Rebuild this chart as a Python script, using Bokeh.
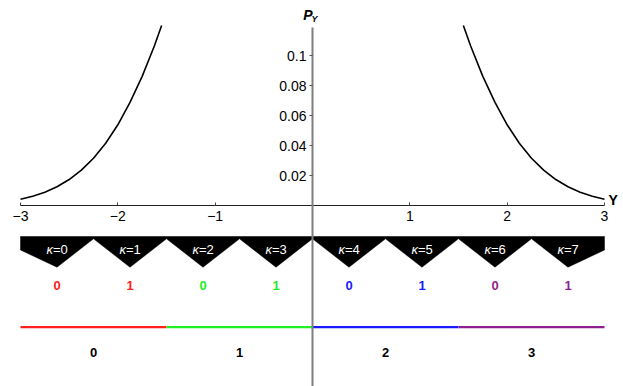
from bokeh.plotting import figure
from bokeh.models import Range1d, LinearAxis, FixedTicker, Label
from bokeh.core.properties import value
from bokeh.embed import file_html
from bokeh.resources import INLINE

# ---------------- data ----------------
curve_left_y = [-3.0, -2.875, -2.75, -2.625, -2.5, -2.375, -2.25, -2.125,
                -2.0, -1.875, -1.75, -1.625, -1.55]
curve_left_p = [0.0044, 0.0064, 0.0091, 0.0127, 0.0175, 0.0238, 0.0317, 0.0417,
                0.0540, 0.0689, 0.0863, 0.1065, 0.1202]
curve_right_y = [1.55, 1.625, 1.75, 1.875, 2.0, 2.125, 2.25, 2.375,
                 2.5, 2.625, 2.75, 2.875, 3.0]
curve_right_p = [0.1202, 0.1065, 0.0863, 0.0689, 0.0540, 0.0417, 0.0317, 0.0238,
                 0.0175, 0.0127, 0.0091, 0.0064, 0.0044]

kappa = [0, 1, 2, 3, 4, 5, 6, 7]
kappa_bits = [0, 1, 0, 1, 0, 1, 0, 1]
segments = [0, 1, 2, 3]
segment_colors = ["#ff2020", "#22f022", "#1a1aff", "#8f1f8f"]

x_ticks = [-3, -2, -1, 1, 2, 3]
x_tick_labels = ["\u22123", "\u22122", "\u22121", "1", "2", "3"]
y_ticks = [0.02, 0.04, 0.06, 0.08, 0.1]
y_tick_labels = ["0.02", "0.04", "0.06", "0.08", "0.1"]

X_MIN, X_MAX = -3.0, 3.0
Y_AXIS_TOP = 0.119

# ---------------- layout helpers ----------------
PXU = 97.33      # pixels per unit of Y (horizontal)
PYU = 1500.0     # pixels per unit of P (vertical)
X0PX, Y0PX = 312.0, 205.3   # picture pixel of origin
OFF = 0          # picture pixel of the canvas' top-left corner


def yd(py):
    return (Y0PX - py) / PYU


def xd(px):
    return (px - X0PX) / PXU


W, H = 623, 386
p = figure(width=W, height=H,
           x_range=Range1d(xd(OFF), xd(OFF + W)),
           y_range=Range1d(yd(OFF + H), yd(OFF)),
           toolbar_location=None, output_backend="svg",
           x_axis_type=None, y_axis_type=None, min_border=0)
p.outline_line_color = None
p.background_fill_color = "white"

FONT = "Liberation Sans"

# ---------------- curves ----------------
p.line(curve_left_y, curve_left_p, line_color="black", line_width=1.6)
p.line(curve_right_y, curve_right_p, line_color="black", line_width=1.6)

# ---------------- black zigzag band ----------------
n_k = len(kappa)
seg_w = (X_MAX - X_MIN) / n_k
band_top = yd(236)
band_apex = yd(266.7)
band_peak = yd(238.3)
band_end = yd(249.5)
bx = [X_MIN, X_MAX, X_MAX]
by = [band_top, band_top, band_end]
for k in reversed(kappa):
    bx.append(X_MIN + seg_w * (k + 0.5))
    by.append(band_apex)
    if k > 0:
        bx.append(X_MIN + seg_w * k)
        by.append(band_peak)
bx.append(X_MIN)
by.append(band_end)
p.patch(bx, by, fill_color="black", line_color="black", line_width=0.5)

centers = [X_MIN + seg_w * (k + 0.5) for k in kappa]
ky = [yd(248.5)] * n_k
p.text(centers, ky, text=["\u03ba"] * n_k, x_offset=-4,
       text_align="right", text_baseline="middle", text_color="white",
       text_font=value(FONT), text_font_size="13px", text_font_style="italic")
p.text(centers, ky, text=["=%d" % k for k in kappa], x_offset=-4,
       text_align="left", text_baseline="middle", text_color="white",
       text_font=value(FONT), text_font_size="13px")

# ---------------- bit labels ----------------
bit_colors = [segment_colors[k // 2] for k in kappa]
p.text(centers, [yd(285)] * n_k, text=[str(b) for b in kappa_bits],
       text_color=bit_colors, text_align="center", text_baseline="middle",
       text_font=value(FONT), text_font_size="13px", text_font_style="bold")

# ---------------- coloured segments ----------------
n_s = len(segments)
sw = (X_MAX - X_MIN) / n_s
sx0 = [X_MIN + sw * s for s in segments]
sx1 = [X_MIN + sw * (s + 1) for s in segments]
ly = yd(326.7)
p.segment(x0=sx0, y0=[ly] * n_s, x1=sx1, y1=[ly] * n_s,
          line_color=segment_colors, line_width=2.2)
p.text([X_MIN + sw * (s + 0.5) for s in segments], [yd(351.7)] * n_s,
       text=[str(s) for s in segments], text_color="black",
       text_align="center", text_baseline="middle",
       text_font=value(FONT), text_font_size="13px", text_font_style="bold")

# ---------------- axes ----------------
xaxis = LinearAxis(fixed_location=0, bounds=(X_MIN, X_MAX),
                   ticker=FixedTicker(ticks=x_ticks, minor_ticks=[]),
                   major_label_overrides={t: l for t, l in zip(x_ticks, x_tick_labels)})
xaxis.axis_line_color = "#222222"
xaxis.axis_line_width = 1
xaxis.major_tick_in = 3
xaxis.major_tick_out = 0
xaxis.major_tick_line_color = "#444444"
xaxis.minor_tick_line_color = None
xaxis.major_label_standoff = 5
xaxis.major_label_text_font = FONT
xaxis.major_label_text_font_size = "14px"
xaxis.major_label_text_color = "black"
p.add_layout(xaxis, "below")

yaxis = LinearAxis(fixed_location=0, bounds=(yd(OFF + H), Y_AXIS_TOP),
                   ticker=FixedTicker(ticks=y_ticks, minor_ticks=[]),
                   major_label_overrides={t: l for t, l in zip(y_ticks, y_tick_labels)})
yaxis.axis_line_color = "#7f7f7f"
yaxis.axis_line_width = 2
yaxis.major_tick_in = 0
yaxis.major_tick_out = 3
yaxis.major_tick_line_color = "#555555"
yaxis.minor_tick_line_color = None
yaxis.major_label_standoff = 3
yaxis.major_label_text_font = FONT
yaxis.major_label_text_font_size = "14px"
yaxis.major_label_text_color = "black"
p.add_layout(yaxis, "left")

# axis titles
p.add_layout(Label(x=xd(608), y=yd(199.5), text="Y", text_align="left",
                   text_baseline="middle", text_font=FONT, text_font_size="14px",
                   text_font_style="bold", text_color="black"))
p.add_layout(Label(x=xd(307.5), y=yd(14.5), text="P", text_align="center",
                   text_baseline="middle", text_font=FONT, text_font_size="14px",
                   text_font_style="bold italic", text_color="black"))
p.add_layout(Label(x=xd(314), y=yd(18), text="Y", text_align="center",
                   text_baseline="middle", text_font=FONT, text_font_size="9px",
                   text_font_style="bold italic", text_color="black"))

open("out.html", "w").write(file_html(p, INLINE))
